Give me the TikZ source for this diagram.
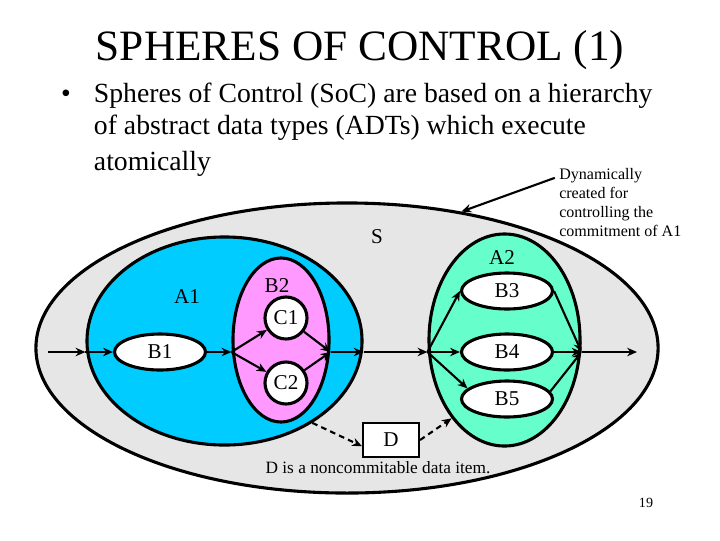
\documentclass[tikz,border=0pt]{standalone}
\usepackage{fontspec}
\setmainfont{Liberation Serif}
\usetikzlibrary{arrows.meta,shapes.geometric}

\definecolor{soffill}{RGB}{230,230,230}
\definecolor{aonefill}{RGB}{0,204,255}
\definecolor{btwofill}{RGB}{255,153,255}
\definecolor{atwofill}{RGB}{102,255,204}

\newcommand{\lblfont}{\fontsize{15}{18}\selectfont}

\begin{document}
\begin{tikzpicture}[x=0.025cm, y=-0.025cm, >={Stealth[length=7pt,width=6pt]},
  sphere/.style={ellipse, draw, line width=2.2pt, inner sep=0pt},
  item/.style={ellipse, draw, fill=white, line width=2.2pt, inner sep=0pt,
    minimum width=2.275cm, minimum height=0.9cm, font=\lblfont},
  sub/.style={circle, draw, fill=white, line width=2.2pt, inner sep=0pt,
    minimum size=1.05cm, font=\lblfont},
  flow/.style={->, line width=1.5pt},
  dep/.style={->, line width=1.5pt, dash pattern=on 4pt off 3pt},
  lbl/.style={font=\lblfont}]
\useasboundingbox (0,0) rectangle (720,540);

% --- Title and bullet ---
\node[anchor=base, font=\fontsize{30.8}{36}\selectfont] (title) at (360,60) {SPHERES OF CONTROL (1)};
\node[anchor=base, font=\fontsize{19.7}{24}\selectfont] (bullet) at (66,102) {•};
\node[anchor=base west, font=\fontsize{19.7}{24}\selectfont] (lineone) at (89,102) {Spheres of Control (SoC) are based on a hierarchy};
\node[anchor=base west, font=\fontsize{19.7}{24}\selectfont] (linetwo) at (89,134) {of abstract data types (ADTs) which execute};
\node[anchor=base west, font=\fontsize{19.7}{24}\selectfont] (linethree) at (89,170) {atomically};

% --- Spheres ---
\node[sphere, fill=soffill, minimum width=15.55cm, minimum height=7.25cm] (S) at (347,348) {};
\node[sphere, fill=aonefill, minimum width=6.875cm, minimum height=5.2cm] (A1) at (224.5,341) {};
\node[sphere, fill=btwofill, minimum width=2.4cm, minimum height=4.1cm] (B2) at (281,340) {};
\node[sphere, fill=atwofill, minimum width=3.775cm, minimum height=5.3cm] (A2) at (504.5,340) {};

\node[lbl] (Sname) at (377,237) {S};
\node[lbl] (A1name) at (187,297) {A1};
\node[lbl] (B2name) at (277,286) {B2};
\node[lbl] (A2name) at (502,258) {A2};

\node[item] (B1) at (160,352) {B1};
\node[sub] (C1) at (286,318) {C1};
\node[sub] (C2) at (286,383) {C2};
\node[item] (B3) at (507,291) {B3};
\node[item] (B4) at (507,352) {B4};
\node[item] (B5) at (507,399) {B5};

\node[draw, fill=white, line width=1.5pt, minimum width=1.4cm, minimum height=0.85cm, inner sep=0pt, font=\lblfont] (D) at (391,440) {D};

% --- Flow through the spheres ---
\coordinate (start) at (48,352);
\coordinate (a1in) at (A1.west |- B1);
\coordinate (b2in) at (B2.west |- B1);
\coordinate (b2out) at (B2.east |- B1);
\coordinate (a1out) at (A1.east |- B1);
\coordinate (a2in) at (A2.west |- B1);
\coordinate (a2out) at (A2.east |- B1);
\coordinate (stop) at (637,352);

\draw[flow] (start) -- (a1in);
\draw[flow] (a1in) -- (B1);
\draw[flow] (B1) -- (b2in);
\draw[flow] (b2in) -- (C1);
\draw[flow] (b2in) -- (C2);
\draw[flow] (C1) -- (b2out);
\draw[flow] (C2) -- (b2out);
\draw[flow] (b2out) -- (a1out);
\draw[flow] (a1out) -- (a2in);
\draw[flow] (a2in) -- (B3.west);
\draw[flow] (a2in) -- (B4);
\draw[flow] (a2in) -- (B5.165);
\draw[flow] (B3.east) -- (a2out);
\draw[flow] (B4) -- (a2out);
\draw[flow] (B5.10) -- (a2out);
\draw[flow] (a2out) -- (stop);

% --- Data item D ---
\draw[dep] (A1.-43) -- (D.192);
\draw[dep] (D.east) -- (A2.-124);
\node[anchor=base, font=\fontsize{12.3}{14}\selectfont] (Dnote) at (378,473) {D is a noncommitable data item.};

% --- Note on S ---
\node[anchor=north west, align=left, inner sep=0pt, font=\fontsize{11.4}{13.5}\selectfont] (note) at (559,168)
  {Dynamically\\created for\\controlling the\\commitment of A1};
\coordinate (notetip) at ([xshift=-3pt,yshift=-7pt]note.north west);
\draw[->, line width=1.5pt] (notetip) -- (S.50);

\node[anchor=base east, font=\fontsize{10}{12}\selectfont] (page) at (658,507) {19};
\end{tikzpicture}
\end{document}
